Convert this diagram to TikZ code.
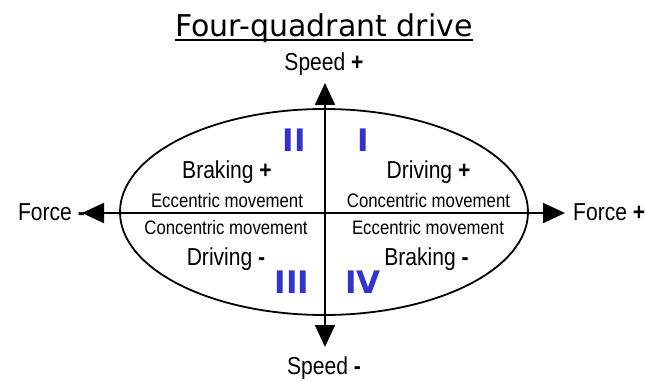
\documentclass[tikz,border=0pt]{standalone}
\usepackage{fontspec}
\setmainfont{Liberation Sans}[FakeStretch=0.86]
\newfontfamily\titlefont{DejaVu Sans}
\newfontfamily\numfont{DejaVu Sans Bold}
\usetikzlibrary{arrows.meta,shapes.geometric}
\definecolor{quadblue}{RGB}{51,51,204}
\begin{document}
\begin{tikzpicture}[x=1pt,y=-1pt,
 biglabel/.style={inner sep=0pt, anchor=base, font=\fontsize{24.5}{29}\selectfont},
 smalllabel/.style={inner sep=0pt, anchor=base, font=\fontsize{19.5}{23}\selectfont},
 quadnum/.style={inner sep=0pt, anchor=base, text=quadblue, font=\numfont\fontsize{31}{36}\selectfont},
 axisline/.style={line width=1.8pt, {Triangle[length=22pt,width=20pt]}-{Triangle[length=22pt,width=20pt]}},
 outline/.style={line width=1.8pt},
]
\useasboundingbox (0,0) rectangle (645,382);

% title
\node[inner sep=0pt, anchor=base, font=\titlefont\fontsize{30}{36}\selectfont] (title) at (324,37) {Four-quadrant drive};
\draw[line width=1.6pt] ([yshift=-3pt]title.base west) -- ([yshift=-3pt]title.base east);

% ellipse
\node[draw, outline, ellipse, minimum width=408pt, minimum height=206pt, inner sep=0pt] (oval) at (324,212) {};

% axes
\coordinate (top) at (325,83);
\coordinate (bottom) at (325,347);
\coordinate (left) at (82,213);
\coordinate (right) at (565,213);
\draw[axisline] (bottom) -- (top);
\draw[axisline] (left) -- (right);

% axis labels
\node[biglabel] (speedplus) at (324,71) {Speed \textbf{+}};
\node[biglabel] (speedminus) at (324,374) {Speed \textbf{-}};
\node[biglabel, anchor=base east] (forceminus) at (85,221) {Force \textbf{-}};
\node[biglabel, anchor=base west] (forceplus) at (573,221) {Force \textbf{+}};

% quadrant numerals
\node[quadnum] (q2) at (294,152) {II};
\node[quadnum] (q1) at (363,152) {I};
\node[quadnum] (q3) at (292,293) {III};
\node[quadnum] (q4) at (363,293) {IV};

% quadrant texts
\node[biglabel] (brakeplus) at (227,179) {Braking \textbf{+}};
\node[biglabel] (driveplus) at (428.5,179) {Driving \textbf{+}};
\node[smalllabel] (ecc2) at (227,207.5) {Eccentric movement};
\node[smalllabel] (con1) at (428.5,207.5) {Concentric movement};
\node[smalllabel] (con3) at (226,234) {Concentric movement};
\node[smalllabel] (ecc4) at (428,234) {Eccentric movement};
\node[biglabel] (driveminus) at (226,265) {Driving \textbf{-}};
\node[biglabel] (brakeminus) at (426.5,265) {Braking \textbf{-}};
\end{tikzpicture}
\end{document}
